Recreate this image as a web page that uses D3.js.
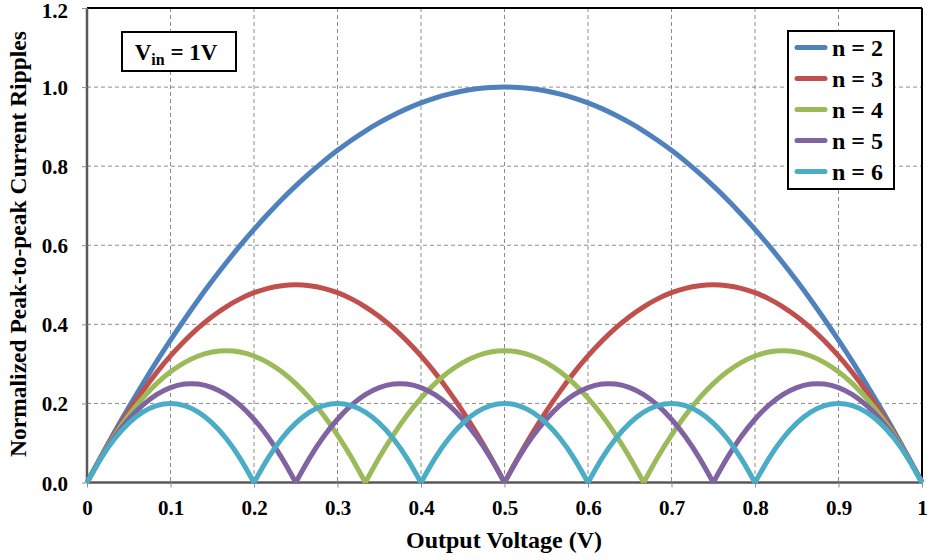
<!DOCTYPE html>
<html><head><meta charset="utf-8">
<script src="https://cdn.jsdelivr.net/npm/d3@7"></script>
<style>body{margin:0;background:#fff}svg{display:block}text{font-family:"Liberation Serif","Times New Roman",serif;font-weight:bold}</style>
</head><body><svg id="c" width="927" height="560"></svg>
<script>
// Output voltage grid (V), 0 to 1 in steps of 1/60
const xValues = [0,0.0167,0.0333,0.05,0.0667,0.0833,0.1,0.1167,0.1333,0.15,0.1667,0.1833,0.2,0.2167,0.2333,0.25,0.2667,0.2833,0.3,0.3167,0.3333,0.35,0.3667,0.3833,0.4,0.4167,0.4333,0.45,0.4667,0.4833,0.5,0.5167,0.5333,0.55,0.5667,0.5833,0.6,0.6167,0.6333,0.65,0.6667,0.6833,0.7,0.7167,0.7333,0.75,0.7667,0.7833,0.8,0.8167,0.8333,0.85,0.8667,0.8833,0.9,0.9167,0.9333,0.95,0.9667,0.9833,1];
const n2 = [0,0.0656,0.1289,0.19,0.2489,0.3056,0.36,0.4122,0.4622,0.51,0.5556,0.5989,0.64,0.6789,0.7156,0.75,0.7822,0.8122,0.84,0.8656,0.8889,0.91,0.9289,0.9456,0.96,0.9722,0.9822,0.99,0.9956,0.9989,1,0.9989,0.9956,0.99,0.9822,0.9722,0.96,0.9456,0.9289,0.91,0.8889,0.8656,0.84,0.8122,0.7822,0.75,0.7156,0.6789,0.64,0.5989,0.5556,0.51,0.4622,0.4122,0.36,0.3056,0.2489,0.19,0.1289,0.0656,0];
const n3 = [0,0.0644,0.1244,0.18,0.2311,0.2778,0.32,0.3578,0.3911,0.42,0.4444,0.4644,0.48,0.4911,0.4978,0.5,0.4978,0.4911,0.48,0.4644,0.4444,0.42,0.3911,0.3578,0.32,0.2778,0.2311,0.18,0.1244,0.0644,0,0.0644,0.1244,0.18,0.2311,0.2778,0.32,0.3578,0.3911,0.42,0.4444,0.4644,0.48,0.4911,0.4978,0.5,0.4978,0.4911,0.48,0.4644,0.4444,0.42,0.3911,0.3578,0.32,0.2778,0.2311,0.18,0.1244,0.0644,0];
const n4 = [0,0.0633,0.12,0.17,0.2133,0.25,0.28,0.3033,0.32,0.33,0.3333,0.33,0.32,0.3033,0.28,0.25,0.2133,0.17,0.12,0.0633,0,0.0633,0.12,0.17,0.2133,0.25,0.28,0.3033,0.32,0.33,0.3333,0.33,0.32,0.3033,0.28,0.25,0.2133,0.17,0.12,0.0633,0,0.0633,0.12,0.17,0.2133,0.25,0.28,0.3033,0.32,0.33,0.3333,0.33,0.32,0.3033,0.28,0.25,0.2133,0.17,0.12,0.0633,0];
const n5 = [0,0.0622,0.1156,0.16,0.1956,0.2222,0.24,0.2489,0.2489,0.24,0.2222,0.1956,0.16,0.1156,0.0622,0,0.0622,0.1156,0.16,0.1956,0.2222,0.24,0.2489,0.2489,0.24,0.2222,0.1956,0.16,0.1156,0.0622,0,0.0622,0.1156,0.16,0.1956,0.2222,0.24,0.2489,0.2489,0.24,0.2222,0.1956,0.16,0.1156,0.0622,0,0.0622,0.1156,0.16,0.1956,0.2222,0.24,0.2489,0.2489,0.24,0.2222,0.1956,0.16,0.1156,0.0622,0];
const n6 = [0,0.0611,0.1111,0.15,0.1778,0.1944,0.2,0.1944,0.1778,0.15,0.1111,0.0611,0,0.0611,0.1111,0.15,0.1778,0.1944,0.2,0.1944,0.1778,0.15,0.1111,0.0611,0,0.0611,0.1111,0.15,0.1778,0.1944,0.2,0.1944,0.1778,0.15,0.1111,0.0611,0,0.0611,0.1111,0.15,0.1778,0.1944,0.2,0.1944,0.1778,0.15,0.1111,0.0611,0,0.0611,0.1111,0.15,0.1778,0.1944,0.2,0.1944,0.1778,0.15,0.1111,0.0611,0];
const seriesNames = ["n = 2","n = 3","n = 4","n = 5","n = 6"];
const seriesValues = [n2,n3,n4,n5,n6];
const colors = ["#4F81BD","#C0504D","#9BBB59","#8064A2","#4BACC6"];
const xTicks = [0,0.1,0.2,0.3,0.4,0.5,0.6,0.7,0.8,0.9,1];
const xTickLabels = ["0","0.1","0.2","0.3","0.4","0.5","0.6","0.7","0.8","0.9","1"];
const yTicks = [0,0.2,0.4,0.6,0.8,1.0,1.2];
const yTickLabels = ["0.0","0.2","0.4","0.6","0.8","1.0","1.2"];

const svg = d3.select("#c");
const L=87, R=922, T=8, B=482.5;
const x = d3.scaleLinear().domain([0,1]).range([L,R]);
const y = d3.scaleLinear().domain([0,1.2]).range([B,T]);

// grid
const g = svg.append("g");
g.selectAll(".vg").data(xTicks.slice(1,-1)).enter().append("line")
  .attr("x1",d=>x(d)).attr("x2",d=>x(d)).attr("y1",T).attr("y2",B)
  .attr("stroke","#8c8c8c").attr("stroke-width",1).attr("stroke-dasharray","4,3");
g.selectAll(".hg").data(yTicks.slice(1,-1)).enter().append("line")
  .attr("y1",d=>y(d)).attr("y2",d=>y(d)).attr("x1",L).attr("x2",R)
  .attr("stroke","#8c8c8c").attr("stroke-width",1).attr("stroke-dasharray","4,3");

// frame top/right
svg.append("line").attr("x1",L).attr("x2",R).attr("y1",T).attr("y2",T).attr("stroke","#000").attr("stroke-width",2);
svg.append("line").attr("x1",R).attr("x2",R).attr("y1",T).attr("y2",B).attr("stroke","#000").attr("stroke-width",2);

// axes
const xAxis = d3.axisBottom(x).tickValues(xTicks).tickFormat((d,i)=>xTickLabels[i]).tickSize(5).tickPadding(13);
const yAxis = d3.axisLeft(y).tickValues(yTicks).tickFormat((d,i)=>yTickLabels[i]).tickSize(5).tickPadding(14);
const xa = svg.append("g").attr("transform",`translate(0,${B})`).call(xAxis);
const ya = svg.append("g").attr("transform",`translate(${L},0)`).call(yAxis);
[xa,ya].forEach(a=>{
  a.select(".domain").attr("stroke","#595959").attr("stroke-width",2.5);
  a.selectAll(".tick line").attr("stroke","#8c8c8c");
  a.selectAll(".tick text").attr("fill","#000").style("font-size","21px").style("font-family","'Liberation Serif',serif").style("font-weight","bold");
});
xa.select(".domain").attr("d",`M${L},0H${R}`);
ya.select(".domain").attr("d",`M0,${B}V${T}`);
ya.selectAll(".tick text").attr("dy",(d,i)=> i===yTicks.length-1 ? "0.46em" : "0.36em");

// curves: split into arches at zeros
const line = d3.line().x(d=>x(d[0])).y(d=>y(d[1])).curve(d3.curveNatural);
seriesValues.forEach((vals,si)=>{
  const arches=[]; let cur=[];
  vals.forEach((v,i)=>{
    cur.push([xValues[i],v]);
    if(v===0 && cur.length>1){arches.push(cur); cur=[[xValues[i],v]];}
  });
  arches.forEach(a=>{
    svg.append("path").attr("d",line(a)).attr("fill","none")
      .attr("stroke",colors[si]).attr("stroke-width",5).attr("stroke-linejoin","round");
  });
});

// Vin box
svg.append("rect").attr("x",122).attr("y",32).attr("width",114).attr("height",39)
  .attr("fill","#fff").attr("stroke","#000").attr("stroke-width",2);
const vt = svg.append("text").attr("x",176).attr("y",60).attr("text-anchor","middle").style("font-size","23px");
vt.append("tspan").text("V");
vt.append("tspan").attr("dy",5).style("font-size","16px").text("in");
vt.append("tspan").attr("dy",-5).text(" = 1V");

// legend
svg.append("rect").attr("x",788).attr("y",31).attr("width",106).attr("height",158)
  .attr("fill","#fff").attr("stroke","#000").attr("stroke-width",2);
seriesNames.forEach((nm,i)=>{
  const yy = 47.5 + i*31;
  svg.append("line").attr("x1",797).attr("x2",825).attr("y1",yy).attr("y2",yy)
    .attr("stroke",colors[i]).attr("stroke-width",5).attr("stroke-linecap","round");
  svg.append("text").attr("x",832).attr("y",yy+8).style("font-size","24px").text(nm);
});

// axis titles
svg.append("text").attr("x",504).attr("y",548).attr("text-anchor","middle").style("font-size","24px").text("Output Voltage (V)");
svg.append("text").attr("transform","translate(26,244) rotate(-90)").attr("text-anchor","middle").style("font-size","23.5px").text("Normalized Peak-to-peak Current Ripples");
</script></body></html>
